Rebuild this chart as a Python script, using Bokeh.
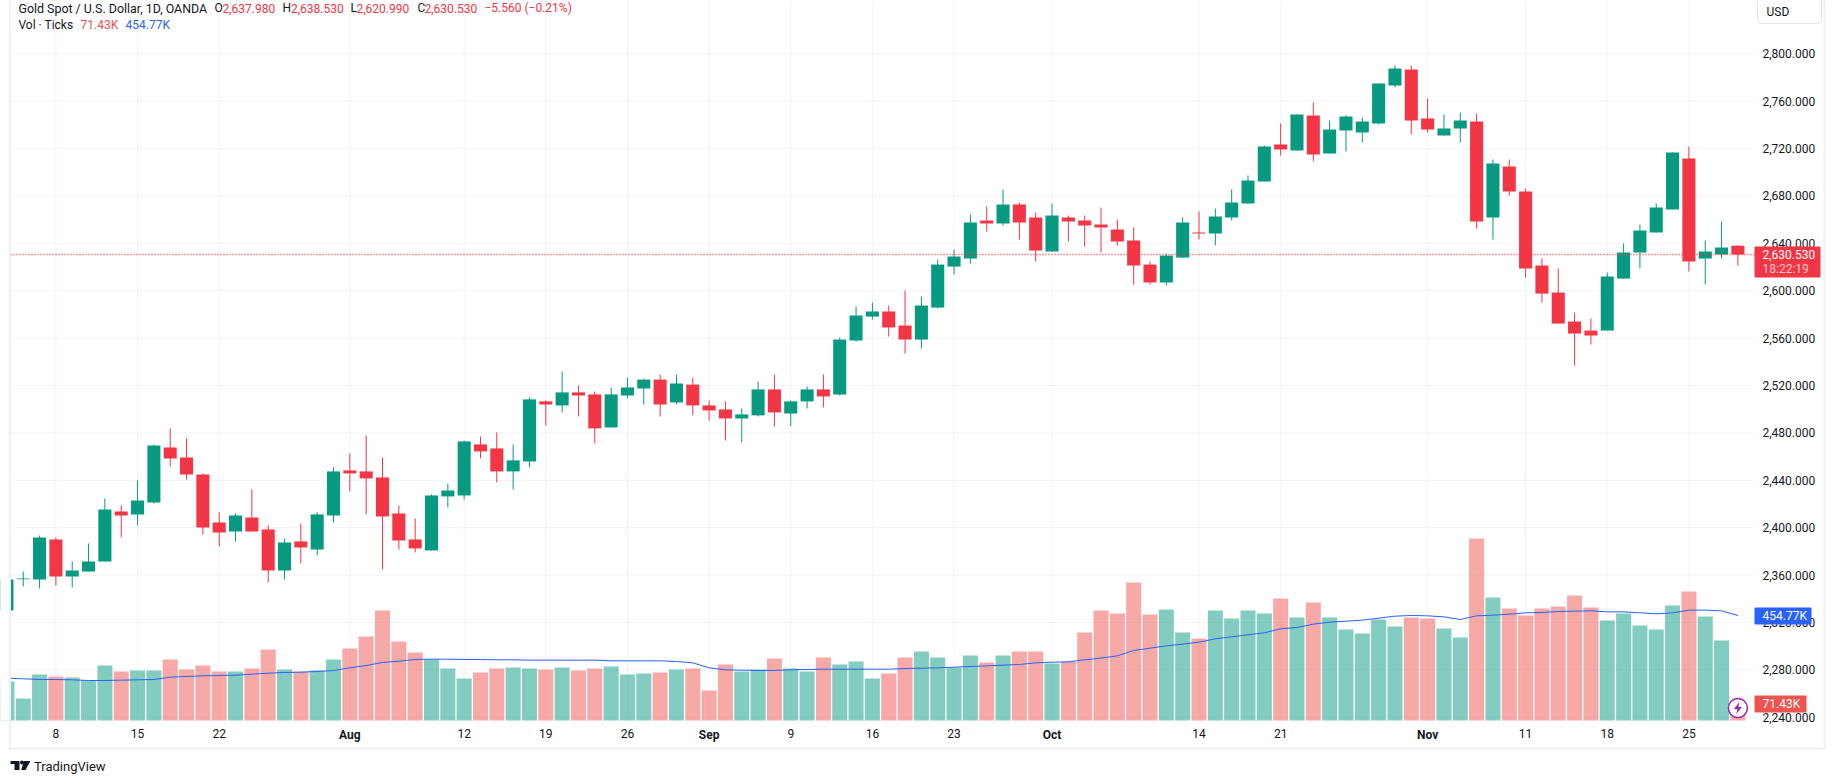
from bokeh.embed import file_html
from bokeh.resources import INLINE
from bokeh.plotting import figure
from bokeh.models import (ColumnDataSource, FixedTicker, NumeralTickFormatter, Range1d, Label,
                          BoxAnnotation)

# ---- data -------------------------------------------------------------
opens = [2330.1, 2356.4, 2356.3, 2390.1, 2358.8, 2363.1, 2371.5, 2413.7, 2411.2, 2421.3,
         2467.7, 2459.3, 2444.9, 2404.4, 2396.8, 2408.6, 2398.5, 2363.9, 2388.4, 2381.6,
         2410.3, 2448.3, 2447.5, 2442.4, 2412.0, 2390.1, 2380.8, 2426.4, 2427.2, 2470.3,
         2466.9, 2447.5, 2455.9, 2506.6, 2503.2, 2514.2, 2512.5, 2484.6, 2511.6, 2517.5,
         2525.0, 2505.7, 2520.8, 2503.2, 2499.8, 2492.2, 2494.8, 2516.7, 2496.4, 2506.6,
         2516.7, 2512.4, 2558.0, 2578.2, 2582.5, 2570.6, 2558.8, 2585.8, 2620.4, 2627.2,
         2659.3, 2656.7, 2672.8, 2661.8, 2633.1, 2661.8, 2659.3, 2655.9, 2651.7, 2642.4,
         2622.1, 2607.0, 2628.0, 2649.1, 2648.3, 2661.8, 2673.6, 2692.2, 2723.4, 2718.4,
         2747.9, 2715.8, 2735.3, 2733.6, 2741.2, 2773.2, 2786.7, 2745.4, 2731.0, 2736.9,
         2742.9, 2661.8, 2704.9, 2683.8, 2621.3, 2598.5, 2574.0, 2566.4, 2566.4, 2610.3,
         2632.3, 2649.1, 2668.6, 2711.6, 2627.2, 2630.6, 2637.98]
highs = [2365.0, 2363.0, 2393.4, 2391.8, 2371.5, 2386.7, 2424.7, 2418.8, 2439.9, 2470.3,
         2483.8, 2475.3, 2445.8, 2412.9, 2412.0, 2432.3, 2401.9, 2390.9, 2403.6, 2412.9,
         2450.9, 2462.7, 2477.9, 2459.3, 2418.8, 2407.8, 2428.0, 2437.3, 2473.6, 2477.0,
         2480.4, 2470.3, 2510.0, 2507.4, 2531.8, 2520.0, 2515.0, 2518.3, 2526.7, 2525.9,
         2529.3, 2529.3, 2526.7, 2507.4, 2506.6, 2500.7, 2523.4, 2529.3, 2507.4, 2519.2,
         2529.3, 2560.5, 2586.7, 2590.0, 2587.5, 2600.2, 2595.1, 2626.3, 2634.8, 2664.3,
         2671.1, 2685.4, 2674.5, 2666.0, 2673.6, 2663.5, 2663.5, 2670.2, 2660.1, 2653.4,
         2624.7, 2631.4, 2661.8, 2666.9, 2669.4, 2685.4, 2697.3, 2722.6, 2741.2, 2748.8,
         2758.9, 2743.7, 2747.9, 2746.2, 2774.9, 2790.1, 2790.1, 2762.3, 2748.8, 2750.4,
         2749.6, 2710.8, 2710.8, 2686.3, 2627.2, 2618.8, 2581.6, 2576.5, 2615.4, 2639.9,
         2655.9, 2673.6, 2716.7, 2721.7, 2642.4, 2658.4, 2638.53]
lows = [2328.0, 2350.4, 2348.7, 2351.2, 2349.6, 2363.1, 2371.5, 2391.8, 2401.9, 2420.5,
        2451.7, 2440.7, 2394.3, 2384.2, 2388.4, 2396.8, 2353.8, 2356.3, 2369.8, 2376.6,
        2404.4, 2430.6, 2411.2, 2364.7, 2381.6, 2379.1, 2380.8, 2417.1, 2423.8, 2458.5,
        2438.2, 2432.3, 2450.9, 2486.3, 2497.3, 2493.9, 2471.1, 2484.6, 2509.1, 2504.0,
        2493.9, 2504.0, 2494.8, 2490.5, 2473.6, 2472.0, 2493.9, 2485.5, 2485.5, 2500.7,
        2501.5, 2511.5, 2557.1, 2575.7, 2561.3, 2547.0, 2551.2, 2585.0, 2613.7, 2623.0,
        2650.0, 2655.0, 2643.2, 2624.7, 2633.1, 2641.5, 2637.3, 2632.3, 2638.2, 2605.2,
        2605.2, 2604.4, 2628.0, 2643.2, 2638.2, 2659.3, 2673.6, 2692.2, 2714.1, 2718.4,
        2709.1, 2715.8, 2717.5, 2725.1, 2740.3, 2771.6, 2731.9, 2733.6, 2731.0, 2725.1,
        2652.5, 2643.2, 2680.4, 2611.2, 2590.0, 2572.3, 2536.9, 2554.6, 2566.4, 2610.3,
        2618.8, 2649.1, 2668.6, 2616.2, 2605.2, 2627.2, 2620.99]
closes = [2356.3, 2357.1, 2391.8, 2358.8, 2363.9, 2371.5, 2415.4, 2410.3, 2423.0, 2469.4,
          2458.5, 2444.9, 2400.2, 2396.0, 2410.3, 2396.8, 2363.9, 2387.5, 2383.3, 2411.2,
          2447.5, 2445.8, 2441.6, 2409.5, 2389.2, 2382.5, 2427.2, 2431.4, 2472.8, 2464.4,
          2447.5, 2456.8, 2508.3, 2504.0, 2514.2, 2511.6, 2483.8, 2512.5, 2518.4, 2525.0,
          2504.0, 2521.7, 2503.2, 2499.0, 2492.2, 2495.6, 2516.7, 2497.3, 2506.6, 2516.7,
          2510.8, 2558.8, 2579.1, 2582.5, 2569.0, 2558.8, 2587.5, 2622.1, 2628.9, 2657.6,
          2656.7, 2672.8, 2657.6, 2633.9, 2663.5, 2658.4, 2655.0, 2653.4, 2641.5, 2621.3,
          2607.0, 2629.7, 2657.6, 2648.3, 2662.6, 2674.5, 2693.0, 2721.7, 2719.2, 2748.8,
          2715.0, 2736.1, 2747.1, 2742.9, 2774.9, 2787.6, 2743.7, 2736.1, 2736.9, 2743.7,
          2658.4, 2707.4, 2683.8, 2618.8, 2597.6, 2572.3, 2563.9, 2562.2, 2612.0, 2632.3,
          2650.8, 2670.2, 2716.7, 2624.7, 2633.1, 2636.5, 2630.53]
volumes = [168.9, 95.3, 199.2, 190.6, 186.2, 173.2, 238.2, 212.2, 216.6, 216.6,
           264.2, 220.9, 238.2, 212.2, 212.2, 225.2, 307.5, 220.9, 212.2, 216.6,
           264.2, 311.8, 363.8, 476.4, 342.2, 294.5, 264.2, 225.2, 181.9, 207.9,
           225.2, 229.5, 225.2, 220.9, 229.5, 216.6, 225.2, 233.9, 199.2, 203.6,
           207.9, 220.9, 225.2, 129.9, 242.5, 212.2, 220.9, 268.5, 225.2, 212.2,
           272.9, 242.5, 255.5, 181.9, 203.6, 272.9, 298.8, 272.9, 229.5, 281.5,
           251.2, 281.5, 298.8, 298.8, 246.9, 255.5, 381.1, 476.4, 463.4, 597.7,
           459.1, 480.8, 381.1, 355.2, 476.4, 441.8, 476.4, 463.4, 528.4, 446.1,
           511.1, 446.1, 394.1, 376.8, 437.4, 407.1, 446.1, 441.8, 398.5, 359.5,
           788.3, 532.7, 485.1, 454.8, 485.1, 493.7, 541.4, 489.4, 433.1, 463.4,
           411.5, 394.1, 498.1, 558.7, 450.4, 346.5, 71.43]
volume_ma = [183.3, 180.5, 177.6, 177.6, 176.1, 173.2, 173.2, 174.7, 176.1, 177.6,
             187.7, 190.6, 193.5, 194.9, 196.3, 200.7, 205.0, 207.9, 209.3, 212.2,
             216.6, 228.1, 238.2, 251.2, 257.0, 264.2, 265.6, 265.6, 264.2, 264.2,
             262.8, 262.8, 261.3, 261.3, 261.3, 261.3, 261.3, 258.4, 258.4, 258.4,
             258.4, 255.5, 249.8, 228.1, 219.4, 218.0, 216.6, 216.6, 219.4, 220.9,
             222.3, 222.3, 222.3, 222.3, 222.3, 225.2, 226.7, 228.1, 231.0, 233.9,
             236.8, 239.7, 242.5, 249.8, 252.6, 254.1, 262.8, 270.0, 280.1, 303.2,
             313.3, 323.4, 330.6, 339.3, 353.7, 362.4, 371.0, 379.7, 397.0, 402.8,
             417.2, 425.9, 430.2, 434.6, 443.2, 451.9, 454.8, 453.3, 449.0, 437.4,
             453.3, 456.2, 460.5, 466.3, 467.8, 472.1, 473.5, 475.0, 470.6, 470.6,
             466.3, 462.0, 466.3, 477.9, 477.9, 475.0, 454.77]
day_ticks = {3: "8", 8: "15", 13: "22", 28: "12", 33: "19", 38: "26", 48: "9", 53: "16",
             58: "23", 73: "14", 78: "21", 93: "11", 98: "18", 103: "25"}
month_ticks = {21: "Aug", 43: "Sep", 64: "Oct", 87: "Nov"}
price_ticks = list(range(2240, 2801, 40))
last_close = 2630.53

# ---- page geometry (pixels of the picture) ----------------------------
W, H = 1835, 783
PANE_L, PANE_R, PANE_B = 10, 1754, 720   # the price pane inside the whole-canvas frame
PX = 16.33                               # pixels per bar
BAR0 = 6.41                              # pixel of bar 0
PY = 0.8441                              # dollars per pixel
TOP_PRICE = 2845.0
VK = 4.331                               # K ticks per pixel

def dx(px): return (px - BAR0) / PX
def dy(py): return TOP_PRICE - PY * py

GREEN, RED, VRED, BLUE, INK = "#089981", "#F23645", "#EF5350", "#2962FF", "#131722"
GRID, BAND = "#F2F3F6", "#EFF0F3"
FONT = "Roboto"

idx = list(range(len(opens)))
up = [c >= o for o, c in zip(opens, closes)]
src = ColumnDataSource(dict(
    x=idx, o=opens, h=highs, l=lows, c=closes, v=volumes, ma=volume_ma,
    top=[max(a, b) for a, b in zip(opens, closes)],
    bot=[min(a, b) for a, b in zip(opens, closes)],
    col=[GREEN if u else RED for u in up],
    vcol=[GREEN if u else VRED for u in up],
))

p = figure(width=W, height=H, x_range=Range1d(dx(0), dx(W)), y_range=Range1d(dy(H), dy(0)),
           y_axis_location="right", toolbar_location=None, output_backend="svg",
           min_border_left=0, min_border_right=0, min_border_top=0, min_border_bottom=0,
           background_fill_color="white", border_fill_color="white",
           outline_line_color=None)
p.extra_y_ranges = {"vol": Range1d(-VK * (H - PANE_B), VK * PANE_B)}

# axes: their labels are pulled back into the whole-canvas frame
ax = p.yaxis[0]
ax.ticker = FixedTicker(ticks=price_ticks)
ax.formatter = NumeralTickFormatter(format="0,0.000")
ax.major_label_text_font = FONT
ax.major_label_text_font_size = "12px"
ax.major_label_text_color = INK
ax.major_tick_line_color = None
ax.major_tick_out = 0
ax.major_tick_in = 0
ax.minor_tick_line_color = None
ax.minor_tick_out = 0
ax.axis_line_color = None
ax.major_label_standoff = 1762 - W

bx = p.xaxis[0]
bx.ticker = FixedTicker(ticks=list(day_ticks))
bx.major_label_overrides = day_ticks
bx.major_label_text_font = FONT
bx.major_label_text_font_size = "12px"
bx.major_label_text_color = INK
bx.major_tick_line_color = None
bx.major_tick_out = 0
bx.major_tick_in = 0
bx.minor_tick_line_color = None
bx.minor_tick_out = 0
bx.axis_line_color = None
bx.major_label_standoff = 728 - H

p.xgrid.visible = False
p.ygrid.visible = False

# grid lines, kept inside the pane
grid_x = sorted(list(day_ticks) + list(month_ticks))
p.segment(x0=grid_x, x1=grid_x, y0=dy(PANE_B), y1=dy(0), line_color=GRID, line_width=1)
p.segment(x0=dx(PANE_L), x1=dx(PANE_R), y0=price_ticks, y1=price_ticks, line_color=GRID, line_width=1)

# marks
p.vbar(x="x", width=0.92, bottom=0, top="v", source=src, fill_color="vcol", fill_alpha=0.5,
       line_color=None, y_range_name="vol")
p.line(x="x", y="ma", source=src, line_color=BLUE, line_width=1, y_range_name="vol")
p.segment(x0="x", x1="x", y0="l", y1="h", source=src, line_color="col", line_width=1)
p.vbar(x="x", width=0.8, bottom="bot", top="top", source=src, fill_color="col", line_color=None)
p.segment(x0=[dx(PANE_L)], x1=[dx(PANE_R)], y0=[last_close], y1=[last_close], line_color=RED,
          line_width=1.5, line_dash="1 2")

# lightning marker at the last bar
CX, CY = BAR0 + PX * idx[-1], 707.5
p.scatter([idx[-1]], [dy(CY)], size=19, marker="circle", fill_color="white",
          line_color="#9C27B0", line_width=1.5)
BOLT = [(1.5, -6), (-4, 1), (-0.5, 1), (-1.5, 6), (4, -1), (0.5, -1)]
p.patch([dx(CX + a) for a, b in BOLT], [dy(CY + b) for a, b in BOLT], fill_color="#9C27B0",
        line_color=None)

# TradingView logo mark
LOGO_T = [(10, 760.5), (19, 760.5), (19, 769.5), (14, 769.5), (14, 763.5), (10, 763.5)]
LOGO_V = [(23.5, 760.5), (30, 760.5), (25, 769.5), (20.7, 769.5)]
for shape in (LOGO_T, LOGO_V):
    p.patch([dx(a) for a, b in shape], [dy(b) for a, b in shape], fill_color=INK, line_color=None)
p.scatter([dx(21.5)], [dy(762)], size=4, marker="circle", fill_color=INK, line_color=None)

def box(l, t, r, b, color, line=None, radius=0):
    p.add_layout(BoxAnnotation(left=l, right=r, top=H - t, bottom=H - b,
                               left_units="screen", right_units="screen",
                               top_units="screen", bottom_units="screen", fill_color=color,
                               fill_alpha=1, line_color=line, line_alpha=1 if line else 0,
                               border_radius=radius, level="annotation"))

def text(s, px, py, color=INK, size="12px", style="normal", align="left"):
    p.add_layout(Label(x=px, y=H - py, x_units="screen", y_units="screen", text=s, text_color=color,
                       text_font=FONT, text_font_size=size, text_font_style=style,
                       text_align=align, text_baseline="middle", level="overlay"))

# page bands (the strip left of the band hides the clipped first bar)
box(0, 0, 8.5, PANE_B, "white")
box(8.5, 0, 10.5, 748.5, BAND)
box(8.5, 747, 1825, 749, BAND)
box(1823, 0, 1825, 749, BAND)

# month labels
for i, s in month_ticks.items():
    text(s, BAR0 + PX * i, 734, style="bold", align="center")

# legend rows
text("Gold Spot / U.S. Dollar, 1D, OANDA", 18, 7.5, size="12.4px")
for s, px, c in [("O", 214, INK), ("2,637.980", 222, RED), ("H", 282, INK), ("2,638.530", 290.5, RED),
                 ("L", 350, INK), ("2,620.990", 356, RED), ("C", 417, INK), ("2,630.530", 424, RED),
                 ("\u22125.560 (\u22120.21%)", 484, RED)]:
    text(s, px, 7.5, c)
text("Vol \u00b7 Ticks", 18, 24.7)
text("71.43K", 80, 24.7, VRED)
text("454.77K", 125, 24.7, BLUE)

# price scale tags
box(1757, -4, 1821, 23, "white", "#E0E3EB", 4)
text("USD", 1766, 11)
box(1754, 246, 1820, 277, RED, None, 1)
text("2,630.530", 1762, 254, "white")
text("18:22:19", 1762, 268, "#FBC9CE")
box(1754, 607, 1811, 624, BLUE, None, 1)
text("454.77K", 1762, 615.5, "white")
box(1754, 695, 1806, 712, VRED, None, 1)
text("71.43K", 1762, 703.5, "white")

# footer
text("TradingView", 33.5, 765.5, "#131722", "13px")

open("out.html", "w").write(file_html(p, INLINE))
